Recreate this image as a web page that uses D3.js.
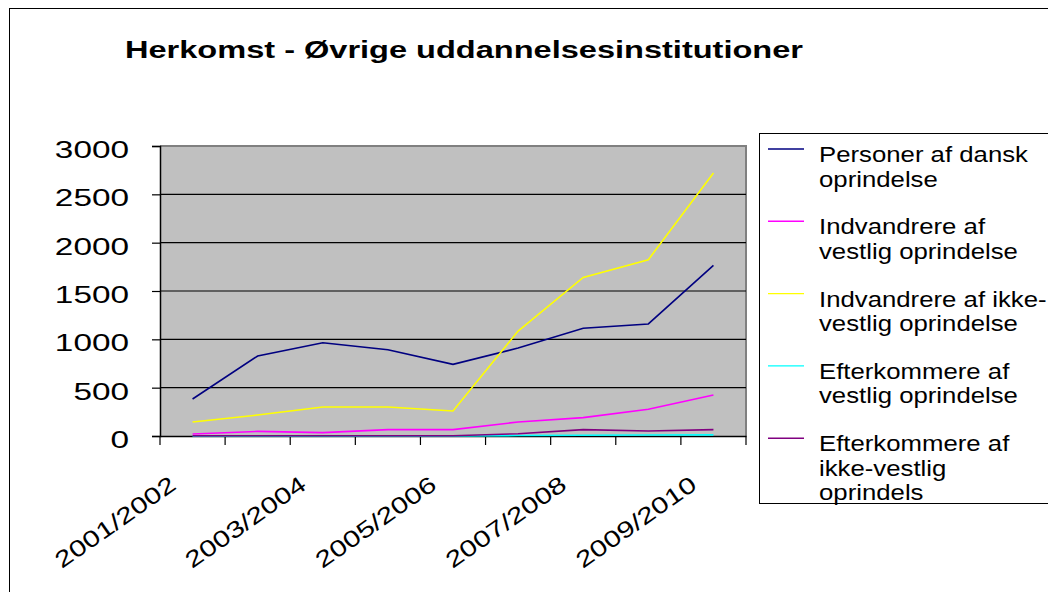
<!DOCTYPE html>
<html><head><meta charset="utf-8">
<script src="https://cdn.jsdelivr.net/npm/d3@7"></script>
<style>body{margin:0;background:#fff}svg{display:block}</style>
</head><body><svg id="c" width="1048" height="592"></svg>
<script>
const title = "Herkomst - Øvrige uddannelsesinstitutioner";
const categories = ["2001/2002","2002/2003","2003/2004","2004/2005","2005/2006","2006/2007","2007/2008","2008/2009","2009/2010"];
const tickLabels = ["2001/2002","2003/2004","2005/2006","2007/2008","2009/2010"];
const yTicks = [0,500,1000,1500,2000,2500,3000];

const dansk        = [383, 828, 965, 893, 741, 910, 1114, 1159, 1766];
const vestligInd   = [21, 48, 35, 66, 66, 145, 190, 276, 424];
const ikkeVestInd  = [145, 217, 300, 300, 259, 1086, 1641, 1824, 2721];
const vestligEft   = [0, 0, 0, 0, 0, 5, 8, 10, 12];
const ikkeVestEft  = [3, 3, 3, 3, 3, 24, 66, 52, 66];

const seriesValues = [dansk, vestligInd, ikkeVestInd, vestligEft, ikkeVestEft];
const seriesColors = ["#000080", "#ff00ff", "#ffff00", "#00ffff", "#800080"];
const legendLines = [
  ["Personer af dansk", "oprindelse"],
  ["Indvandrere af", "vestlig oprindelse"],
  ["Indvandrere af ikke-", "vestlig oprindelse"],
  ["Efterkommere af", "vestlig oprindelse"],
  ["Efterkommere af", "ikke-vestlig", "oprindels"]
];

const svg = d3.select("#c");
const font = "'Liberation Sans', Arial, sans-serif";
const L = 160, R = 746, T = 146, B = 436;
const x = d3.scaleBand().domain(categories).range([L, R]);
const y = d3.scaleLinear().domain([0, 3000]).range([B, T]);

// outer chart border
svg.append("rect").attr("x", 9.5).attr("y", 8.5).attr("width", 1100).attr("height", 700)
  .attr("fill", "none").attr("stroke", "#000").attr("stroke-width", 1);

// title
svg.append("text").attr("x", 125).attr("y", 58)
  .attr("font-family", font).attr("font-weight", "bold").attr("font-size", 23)
  .attr("textLength", 678).attr("lengthAdjust", "spacingAndGlyphs")
  .text(title);

// plot background
svg.append("rect").attr("x", L).attr("y", T).attr("width", R - L).attr("height", B - T)
  .attr("fill", "#c0c0c0");
svg.append("path").attr("d", `M${L},${T}H${R}V${B}`).attr("fill", "none")
  .attr("stroke", "#808080").attr("stroke-width", 2);

// gridlines
svg.append("g").selectAll("line").data(yTicks.filter(d => d > 0 && d < 3000)).join("line")
  .attr("x1", L).attr("x2", R).attr("y1", d => y(d)).attr("y2", d => y(d))
  .attr("stroke", "#000").attr("stroke-width", 1.2);

// y axis
const yAxis = svg.append("g").attr("transform", `translate(${L},0)`)
  .call(d3.axisLeft(y).tickValues(yTicks).tickSize(8).tickFormat(""));
yAxis.select(".domain").attr("stroke", "#000").attr("stroke-width", 1.5);
yAxis.selectAll(".tick line").attr("stroke", "#000").attr("stroke-width", 1.2);
svg.append("g").selectAll("g").data(yTicks).join("g")
  .attr("transform", d => `translate(129,${y(d) + 12}) scale(1.45,1)`)
  .append("text").attr("text-anchor", "end").attr("font-family", font).attr("font-size", 23)
  .text(d => d);

// x axis
const xAxis = svg.append("g").attr("transform", `translate(0,${B})`)
  .call(d3.axisBottom(x).tickSize(0).tickFormat(""));
xAxis.select(".domain").attr("stroke", "#000").attr("stroke-width", 1.5);
const boundaries = categories.map(c => x(c)).concat([R]);
svg.append("g").selectAll("line").data(boundaries).join("line")
  .attr("x1", d => d).attr("x2", d => d).attr("y1", B).attr("y2", B + 9)
  .attr("stroke", "#000").attr("stroke-width", 1.2);
svg.append("g").selectAll("g").data(tickLabels).join("g")
  .attr("transform", d => `translate(${x(d) + x.bandwidth() / 2 - 15},${B + 52}) rotate(-35) scale(1.3,1)`)
  .append("text").attr("text-anchor", "end").attr("font-family", font).attr("font-size", 23)
  .text(d => d);

// lines
const line = d3.line().x((d, i) => x(categories[i]) + x.bandwidth() / 2).y(d => y(d));
svg.append("g").selectAll("path").data(seriesValues).join("path")
  .attr("d", d => line(d)).attr("fill", "none")
  .attr("stroke", (d, i) => seriesColors[i]).attr("stroke-width", 1.6);

// legend
svg.append("rect").attr("x", 759.5).attr("y", 133.5).attr("width", 400).attr("height", 370)
  .attr("fill", "#fff").attr("stroke", "#000").attr("stroke-width", 1);
const lg = svg.append("g").selectAll("g").data(legendLines).join("g")
  .attr("transform", (d, i) => `translate(0,${149 + i * 72.3})`);
lg.append("line").attr("x1", 768).attr("x2", 804).attr("y1", 0).attr("y2", 0)
  .attr("stroke", (d, i) => seriesColors[i]).attr("stroke-width", 1.4);
lg.each(function (d) {
  d3.select(this).selectAll("g").data(d).join("g")
    .attr("transform", (t, j) => `translate(819,${13 + j * 24.5}) scale(1.12,1)`)
    .append("text").attr("font-family", font).attr("font-size", 23).text(t => t);
});
</script></body></html>
